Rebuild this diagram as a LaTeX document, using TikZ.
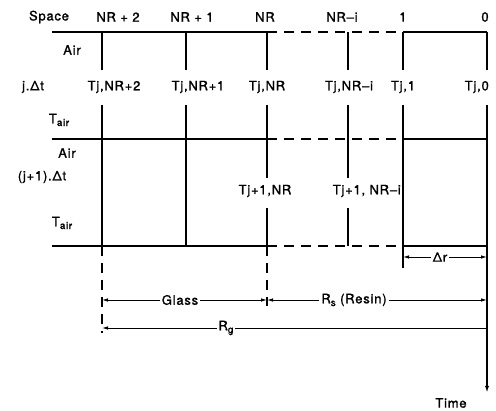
\documentclass[tikz,border=0pt]{standalone}
\usepackage{fontspec}
\setmainfont{TeX Gyre Heros}[LetterSpace=6,FakeBold=1.2]
\usetikzlibrary{arrows.meta}
\newcommand\lowsub[1]{\raisebox{-0.4ex}{\fontsize{10}{10}\selectfont #1}}
\begin{document}
\begin{tikzpicture}[x=1pt,y=-1pt,
  grid/.style={line width=1.6pt},
  gdash/.style={line width=1.6pt, dash pattern=on 10pt off 7pt},
  dim/.style={line width=0.9pt, {Latex[length=6pt,width=3.5pt]}-{Latex[length=6pt,width=3.5pt]}},
  diml/.style={line width=0.9pt, {Latex[length=6pt,width=3.5pt]}-},
  lbl/.style={font=\fontsize{13}{15}\selectfont, inner sep=1pt},
  dlbl/.style={lbl, fill=white, inner sep=2pt}]
\useasboundingbox (0,0) rectangle (496,411);
% grid coordinates
\foreach \n/\x in {a/102,b/186,c/267,d/348,e/403,f/487} {
  \coordinate (\n0) at (\x,32);
  \coordinate (\n1) at (\x,70);
  \coordinate (\n2) at (\x,105);
  \coordinate (\n3) at (\x,139);
  \coordinate (\n4) at (\x,178);
  \coordinate (\n5) at (\x,208);
  \coordinate (\n6) at (\x,246);
}
\coordinate (l0) at (52,32);
\coordinate (l3) at (52,139);
\coordinate (l6) at (52,246);
% horizontal lines
\foreach \r in {0,3,6} {
  \draw[grid] (l\r) -- (c\r);
  \draw[gdash] (c\r) -- (e\r);
  \draw[grid] (e\r) -- (f\r);
}
% vertical lines, top block
\foreach \n in {a,b,c,d,e,f} {
  \draw[grid] (\n0) -- (\n1);
}
\foreach \n in {a,b,c,d,e} {
  \draw[grid] (\n2) -- (\n3);
}
% second block
\draw[grid] (a3) -- (a6);
\draw[grid] (b3) -- (b6);
\draw[grid] (c3) -- (c4);
\draw[grid] (c5) -- (c6);
\draw[grid] (d3) -- (d4);
\draw[grid] (d5) -- (d6);
\coordinate (etick) at (403,268);
\draw[grid] (e3) -- (etick);
\coordinate (tend) at (487,393);
\draw[grid, -{Latex[length=7pt,width=4pt]}] (f2) -- (tend);
% dashed extensions
\coordinate (aend) at (102,333);
\coordinate (cend) at (267,306);
\draw[gdash] (a6) -- (aend);
\draw[gdash] (c6) -- (cend);
% dimension lines
\coordinate (gl) at (102,300);
\coordinate (gm) at (267,300);
\coordinate (gr) at (487,300);
\coordinate (rl) at (102,328);
\coordinate (rr) at (487,328);
\coordinate (dl) at (403,257);
\coordinate (dr) at (487,257);
\draw[dim] (gl) -- (gm);
\draw[dim] (gm) -- (gr);
\draw[diml] (rl) -- (rr);
\draw[dim] (dl) -- (dr);
\node[dlbl] (glass) at (180,300) {Glass};
\node[dlbl] (resin) at (354,300) {R\lowsub{s} (Resin)};
\node[dlbl] (rg) at (226,328) {R\lowsub{g}};
\node[dlbl] (drl) at (440,257) {Δr};
% labels
\node[lbl] (space) at (49,17) {Space};
\node[lbl] (h1) at (118,17) {NR + 2};
\node[lbl] (h2) at (192,17) {NR + 1};
\node[lbl] (h3) at (265,17) {NR};
\node[lbl] (h4) at (342,17) {NR–i};
\node[lbl] (h5) at (403,17) {1};
\node[lbl] (h6) at (485,17) {0};
\node[lbl] (air1) at (72,50) {Air};
\node[lbl] (jdt) at (33,87) {j.Δt};
\node[lbl] (t1) at (114,87) {Tj,NR+2};
\node[lbl] (t2) at (198,87) {Tj,NR+1};
\node[lbl] (t3) at (267,87) {Tj,NR};
\node[lbl] (t4) at (349,87) {Tj,NR–i};
\node[lbl] (t5) at (403,87) {Tj,1};
\node[lbl, anchor=east] (t6) at (490,87) {Tj,0};
\node[lbl] (tair1) at (59,120) {T\lowsub{air}};
\node[lbl] (air2) at (67,153) {Air};
\node[lbl] (j1dt) at (42,177) {(j+1).Δt};
\node[lbl] (u3) at (265,191) {Tj+1,NR};
\node[lbl, anchor=east] (u4) at (402,191) {Tj+1, NR–i};
\node[lbl] (tair2) at (62,223) {T\lowsub{air}};
\node[lbl] (time) at (451,403) {Time};
\end{tikzpicture}
\end{document}
